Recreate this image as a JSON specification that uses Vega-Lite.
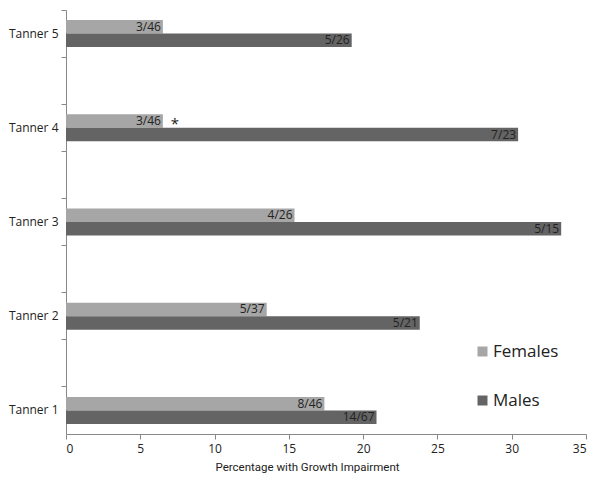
{
  "$schema": "https://vega.github.io/schema/vega-lite/v6.json",
  "width": 520,
  "height": 424,
  "autosize": "none",
  "padding": {"left": 66, "top": 10, "right": 14, "bottom": 50},
  "background": "white",
  "config": {
    "view": {"stroke": null},
    "font": "Open Sans",
    "axis": {"labelColor": "#222", "titleColor": "#222", "domainColor": "#888", "tickColor": "#888", "grid": false}
  },
  "data": {
    "values": [
      {"stage": "Tanner 5", "sex": "Females", "pct": 6.52, "label": "3/46", "note": ""},
      {"stage": "Tanner 5", "sex": "Males", "pct": 19.23, "label": "5/26", "note": ""},
      {"stage": "Tanner 4", "sex": "Females", "pct": 6.52, "label": "3/46", "note": "*"},
      {"stage": "Tanner 4", "sex": "Males", "pct": 30.43, "label": "7/23", "note": ""},
      {"stage": "Tanner 3", "sex": "Females", "pct": 15.38, "label": "4/26", "note": ""},
      {"stage": "Tanner 3", "sex": "Males", "pct": 33.33, "label": "5/15", "note": ""},
      {"stage": "Tanner 2", "sex": "Females", "pct": 13.51, "label": "5/37", "note": ""},
      {"stage": "Tanner 2", "sex": "Males", "pct": 23.81, "label": "5/21", "note": ""},
      {"stage": "Tanner 1", "sex": "Females", "pct": 17.39, "label": "8/46", "note": ""},
      {"stage": "Tanner 1", "sex": "Males", "pct": 20.9, "label": "14/67", "note": ""}
    ]
  },
  "encoding": {
    "y": {
      "field": "stage",
      "type": "nominal",
      "scale": {"domain": ["Tanner 5", "g4", "Tanner 4", "g3", "Tanner 3", "g2", "Tanner 2", "g1", "Tanner 1"], "paddingInner": 0, "paddingOuter": 0},
      "axis": {
        "title": null,
        "bandPosition": 0,
        "labelOffset": 0,
        "labelExpr": "indexof(datum.label, 'Tanner') == 0 ? datum.label : ''",
        "labelFontSize": 12,
        "labelPadding": 3,
        "tickSize": 5
      }
    },
    "yOffset": {
      "field": "sex",
      "type": "nominal",
      "scale": {"domain": ["Females", "Males"], "paddingInner": 0, "paddingOuter": 0.75}
    },
    "x": {
      "field": "pct",
      "type": "quantitative",
      "scale": {"domain": [0, 35], "nice": false},
      "axis": {
        "title": "Percentage with Growth Impairment",
        "values": [0, 5, 10, 15, 20, 25, 30, 35],
        "labelFontSize": 12,
        "titleFont": "Roboto",
        "titleFontSize": 11.5,
        "titleFontWeight": "normal",
        "titleX": 241,
        "titleAlign": "center",
        "titlePadding": 7,
        "tickSize": 5,
        "labelPadding": 4
      }
    }
  },
  "layer": [
    {
      "mark": {"type": "bar"},
      "encoding": {
        "color": {
          "field": "sex",
          "type": "nominal",
          "scale": {"domain": ["Females", "Males"], "range": ["#a6a6a6", "#646464"]},
          "legend": {
            "title": null,
            "orient": "none",
            "legendX": 408,
            "legendY": 333,
            "symbolType": "square",
            "symbolSize": 100,
            "symbolStrokeWidth": 0,
            "labelFontSize": 17,
            "labelColor": "#222",
            "labelOffset": 2,
            "rowPadding": 31
          }
        }
      }
    },
    {
      "mark": {"type": "text", "align": "right", "baseline": "middle", "dx": -2, "fontSize": 12, "color": "#222"},
      "encoding": {"text": {"field": "label"}}
    },
    {
      "transform": [{"filter": "datum.note != ''"}],
      "mark": {"type": "text", "align": "left", "baseline": "middle", "dx": 8, "dy": 3, "fontSize": 15, "color": "#222"},
      "encoding": {"text": {"field": "note"}}
    }
  ]
}
